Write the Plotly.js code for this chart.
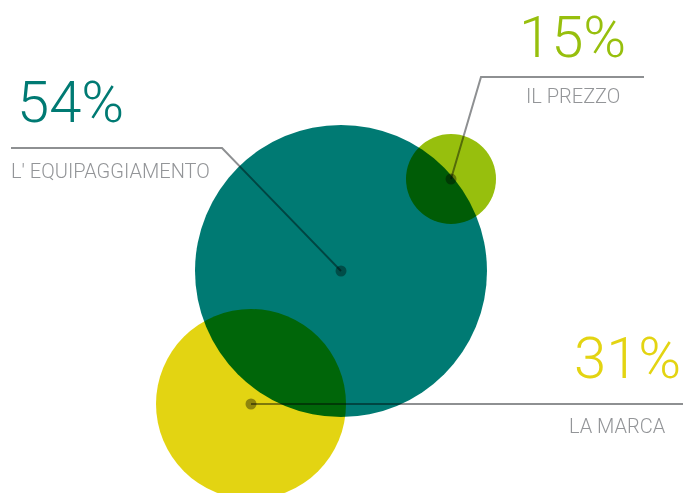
<!DOCTYPE html>
<html>
<head>
<meta charset="utf-8">
<script src="https://cdn.plot.ly/plotly-3.0.1.min.js"></script>
<style>
  html, body { margin: 0; padding: 0; background: #fff; }
  #chart { width: 683px; height: 493px; }
  .js-plotly-plot .scatterlayer path.point,
  .js-plotly-plot .scatterlayer path.js-line,
  .js-plotly-plot .shapelayer path { mix-blend-mode: multiply; }
</style>
</head>
<body>
<div id="chart"></div>
<script>
// Data
const categories = ["L' EQUIPAGGIAMENTO", "IL PREZZO", "LA MARCA"];
const values = [54, 15, 31];
const valueLabels = ["54%", "15%", "31%"];
const bubbleX = [341, 451, 251];
const bubbleY = [271, 179, 404];
const bubbleSize = [292, 90, 190];

// Styles
const colors = ["#007A73", "#97BF0D", "#E3D412"];
const grey = "#8E9092";
const W = 683, H = 493;

// Label placement (layout): elbow and end of leader lines, text anchors
const leader = [
  { elbow: [222, 148], end: [11, 148], num: [15, 102], cat: [9, 171] },
  { elbow: [481, 77], end: [644, 77], num: [517, 37], cat: [524, 96] },
  { elbow: null, end: [683, 404], num: [572, 358], cat: [567, 426] }
];

const traces = [];
// Bubbles
traces.push({
  type: 'scatter', mode: 'markers',
  x: bubbleX, y: bubbleY,
  text: categories, customdata: values,
  marker: { size: bubbleSize, sizemode: 'diameter', sizeref: 1, color: colors, opacity: 1, line: { width: 0 } },
  hoverinfo: 'text', showlegend: false
});
// Leader lines
categories.forEach((c, i) => {
  const xs = [bubbleX[i]], ys = [bubbleY[i]];
  if (leader[i].elbow) { xs.push(leader[i].elbow[0]); ys.push(leader[i].elbow[1]); }
  xs.push(leader[i].end[0]); ys.push(leader[i].end[1]);
  traces.push({
    type: 'scatter', mode: 'lines', x: xs, y: ys,
    line: { color: grey, width: 2 }, hoverinfo: 'skip', showlegend: false
  });
});
// Dots
traces.push({
  type: 'scatter', mode: 'markers', x: bubbleX, y: bubbleY,
  marker: { size: 11, color: '#A0A0A0', line: { width: 0 } },
  hoverinfo: 'skip', showlegend: false
});

const annotations = [];
categories.forEach((c, i) => {
  annotations.push({
    x: leader[i].num[0], y: leader[i].num[1], xref: 'x', yref: 'y',
    text: valueLabels[i], showarrow: false, xanchor: 'left', yanchor: 'middle',
    font: { family: 'Roboto', weight: 300, size: 58, color: colors[i] }
  });
  annotations.push({
    x: leader[i].cat[0], y: leader[i].cat[1], xref: 'x', yref: 'y',
    text: c, showarrow: false, xanchor: 'left', yanchor: 'middle',
    font: { family: 'Roboto', weight: 300, size: 20, color: '#939598' }
  });
});

const layout = {
  width: W, height: H,
  margin: { l: 0, r: 0, t: 0, b: 0 },
  paper_bgcolor: '#fff', plot_bgcolor: '#fff',
  xaxis: { range: [0, W], visible: false, fixedrange: true },
  yaxis: { range: [H, 0], visible: false, fixedrange: true },
  annotations: annotations,
  showlegend: false
};

Plotly.newPlot('chart', traces, layout, { displayModeBar: false, staticPlot: true });
</script>
</body>
</html>
